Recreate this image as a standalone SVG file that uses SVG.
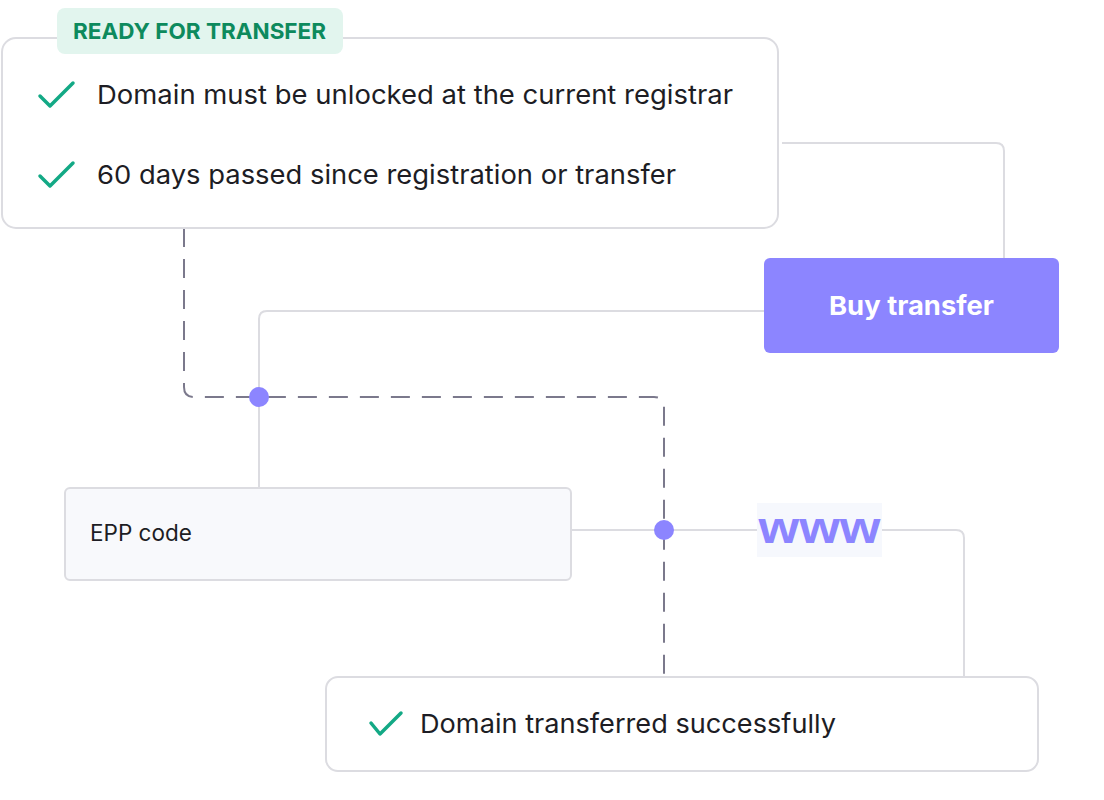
<svg xmlns="http://www.w3.org/2000/svg" width="1104" height="800" viewBox="0 0 1104 800">
<style>
.card{fill:#ffffff;stroke:#dcdce1;stroke-width:2}
.txt{font-family:Inter,"Noto Sans","Liberation Sans",sans-serif;fill:#1d1d24}
.check{fill:none;stroke:#13a985;stroke-width:3.5;stroke-linecap:round;stroke-linejoin:round}
.solid{fill:none;stroke:#dcdce1;stroke-width:2}
.dash{fill:none;stroke:#7b798c;stroke-width:2;stroke-dasharray:19 12}
.dot{fill:#8c85ff}
</style>
<rect width="1104" height="800" fill="#ffffff"/>
<g id="connectors">
<path class="solid" d="M782 143 H996 Q1004 143 1004 151 V258"/>
<path class="solid" d="M764 311 H267 Q259 311 259 319 V488"/>
<path class="solid" d="M571 530 H757"/>
<path class="solid" d="M882 530 H956 Q964 530 964 538 V677"/>
<path class="dash" d="M184 228 V387 Q184 397 194 397 H654 Q664 397 664 407 V677"/>
<circle class="dot" cx="259" cy="397" r="10"/>
<circle class="dot" cx="664" cy="530" r="10"/>
</g>
<g id="requirements">
<rect class="card" x="2" y="38" width="776" height="190" rx="14"/>
<polyline class="check" points="40,96 50,106 73,83"/>
<text class="txt" x="97" y="104" font-size="26" textLength="636" lengthAdjust="spacingAndGlyphs">Domain must be unlocked at the current registrar</text>
<polyline class="check" points="40,176 50,186 73,163"/>
<text class="txt" x="97" y="184" font-size="26" textLength="579" lengthAdjust="spacingAndGlyphs">60 days passed since registration or transfer</text>
</g>
<g id="badge">
<rect x="57" y="8" width="286" height="46" rx="8" fill="#e2f5ee"/>
<text x="73" y="39" font-family="Inter,'Noto Sans','Liberation Sans',sans-serif" font-size="22" font-weight="700" fill="#0d8a5d" textLength="253" lengthAdjust="spacingAndGlyphs">READY FOR TRANSFER</text>
</g>
<g id="buy-transfer">
<rect x="764" y="258" width="295" height="95" rx="6" fill="#8c85ff"/>
<text x="911.5" y="315" text-anchor="middle" font-family="Inter,'Noto Sans','Liberation Sans',sans-serif" font-size="26" font-weight="700" fill="#ffffff" textLength="165" lengthAdjust="spacingAndGlyphs">Buy transfer</text>
</g>
<g id="epp-code">
<rect x="65" y="488" width="506" height="92" rx="5" fill="#f8f9fc" stroke="#dcdce1" stroke-width="2"/>
<text class="txt" x="90" y="541" font-size="22.5">EPP code</text>
</g>
<g id="www">
<rect x="757" y="503" width="125" height="54" fill="#f6f8fd"/>
<text x="819.5" y="543" text-anchor="middle" font-family="'Liberation Sans',Arial,sans-serif" font-size="44" font-weight="700" fill="#8c85ff" textLength="122" lengthAdjust="spacingAndGlyphs">www</text>
</g>
<g id="success">
<rect class="card" x="326" y="677" width="712" height="94" rx="12"/>
<polyline class="check" points="371,723 380,734 401,713"/>
<text class="txt" x="420" y="733" font-size="26" textLength="416" lengthAdjust="spacingAndGlyphs">Domain transferred successfully</text>
</g>
</svg>
